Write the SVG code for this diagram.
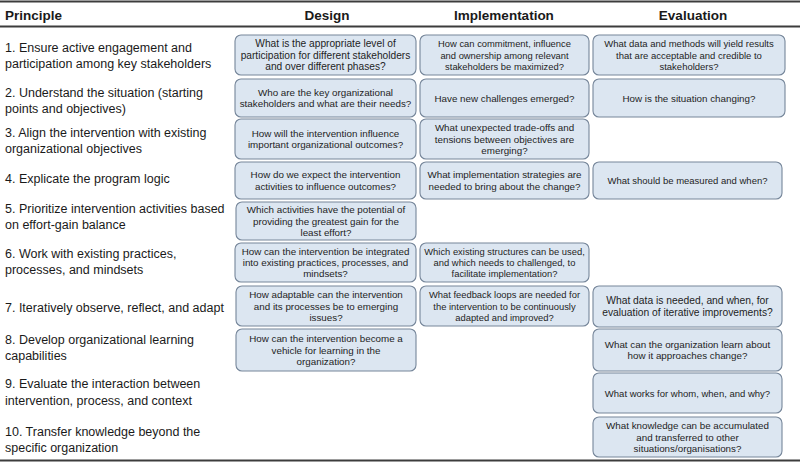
<svg xmlns="http://www.w3.org/2000/svg" width="800" height="464" viewBox="0 0 800 464">
<style>
  .rule{stroke:#3c3c3c;stroke-width:2;fill:none}
  .hd{font-family:"Liberation Sans",Arial,sans-serif;font-weight:bold;font-size:13.5px;fill:#1a1a1a}
  .pr{font-family:"Liberation Sans",Arial,sans-serif;font-size:12.5px;fill:#1a1a1a}
  .box{fill:#dce6f1;stroke:#76869a;stroke-width:1.1}
  .bt{font-family:"Liberation Sans",Arial,sans-serif;font-size:9.8px;fill:#1e1e1e;text-anchor:middle}
</style>
<rect x="0" y="0" width="800" height="464" fill="#ffffff"/>
<g id="rules">
  <line class="rule" x1="0" y1="1.5" x2="800" y2="1.5"/>
  <line class="rule" x1="0" y1="26.5" x2="800" y2="26.5"/>
  <line class="rule" x1="0" y1="460.5" x2="800" y2="460.5"/>
</g>
<g id="headers">
  <text class="hd" x="5" y="20">Principle</text>
  <text class="hd" x="327" y="20" text-anchor="middle">Design</text>
  <text class="hd" x="504" y="20" text-anchor="middle">Implementation</text>
  <text class="hd" x="693" y="20" text-anchor="middle">Evaluation</text>
</g>
<g id="principles">
  <text class="pr" x="5" y="52">1. Ensure active engagement and</text>
  <text class="pr" x="5" y="68">participation among key stakeholders</text>
  <text class="pr" x="5" y="97">2. Understand the situation (starting</text>
  <text class="pr" x="5" y="113">points and objectives)</text>
  <text class="pr" x="5" y="137">3. Align the intervention with existing</text>
  <text class="pr" x="5" y="153">organizational objectives</text>
  <text class="pr" x="5" y="183">4. Explicate the program logic</text>
  <text class="pr" x="5" y="213">5. Prioritize intervention activities based</text>
  <text class="pr" x="5" y="229">on effort-gain balance</text>
  <text class="pr" x="5" y="258">6. Work with existing practices,</text>
  <text class="pr" x="5" y="274">processes, and mindsets</text>
  <text class="pr" x="5" y="312">7. Iteratively observe, reflect, and adapt</text>
  <text class="pr" x="5" y="344">8. Develop organizational learning</text>
  <text class="pr" x="5" y="360">capabilities</text>
  <text class="pr" x="5" y="388">9. Evaluate the interaction between</text>
  <text class="pr" x="5" y="405">intervention, process, and context</text>
  <text class="pr" x="5" y="436">10. Transfer knowledge beyond the</text>
  <text class="pr" x="5" y="452">specific organization</text>
</g>
<g id="design">
  <g id="d1"><rect class="box" x="235" y="35" width="181" height="40" rx="6"/>
    <text class="bt" style="font-size:10.2px" x="325.5" y="47.1">What is the appropriate level of</text>
    <text class="bt" style="font-size:10.2px" x="325.5" y="58.5">participation for different stakeholders</text>
    <text class="bt" style="font-size:10.2px" x="325.5" y="69.9">and over different phases?</text></g>
  <g id="d2"><rect class="box" x="235" y="79" width="181" height="38" rx="6"/>
    <text class="bt" x="325.5" y="95.8">Who are the key organizational</text>
    <text class="bt" x="325.5" y="107.2">stakeholders and what are their needs?</text></g>
  <g id="d3"><rect class="box" x="235" y="119" width="181" height="40" rx="6"/>
    <text class="bt" x="325.5" y="136.8">How will the intervention influence</text>
    <text class="bt" x="325.5" y="148.2">important organizational outcomes?</text></g>
  <g id="d4"><rect class="box" x="235" y="162" width="181" height="37" rx="6"/>
    <text class="bt" x="325.5" y="178.3">How do we expect the intervention</text>
    <text class="bt" x="325.5" y="189.7">activities to influence outcomes?</text></g>
  <g id="d5"><rect class="box" x="236" y="202" width="180" height="38" rx="6"/>
    <text class="bt" x="326" y="213.1">Which activities have the potential of</text>
    <text class="bt" x="326" y="224.5">providing the greatest gain for the</text>
    <text class="bt" x="326" y="235.9">least effort?</text></g>
  <g id="d6"><rect class="box" x="235" y="243" width="181" height="39" rx="6"/>
    <text class="bt" x="325.5" y="254.6">How can the intervention be integrated</text>
    <text class="bt" x="325.5" y="266">into existing practices, processes, and</text>
    <text class="bt" x="325.5" y="277.4">mindsets?</text></g>
  <g id="d7"><rect class="box" x="236" y="286" width="180" height="40" rx="6"/>
    <text class="bt" x="326" y="298.1">How adaptable can the intervention</text>
    <text class="bt" x="326" y="309.5">and its processes be to emerging</text>
    <text class="bt" x="326" y="320.9">issues?</text></g>
  <g id="d8"><rect class="box" x="236" y="329" width="180" height="42" rx="6"/>
    <text class="bt" x="326" y="342.1">How can the intervention become a</text>
    <text class="bt" x="326" y="353.5">vehicle for learning in the</text>
    <text class="bt" x="326" y="364.9">organization?</text></g>
</g>
<g id="implementation">
  <g id="i1"><rect class="box" x="420" y="35" width="169" height="40" rx="6"/>
    <text class="bt" style="font-size:9.4px" x="504.5" y="47.1">How can commitment, influence</text>
    <text class="bt" style="font-size:9.4px" x="504.5" y="58.5">and ownership among relevant</text>
    <text class="bt" style="font-size:9.4px" x="504.5" y="69.9">stakeholders be maximized?</text></g>
  <g id="i2"><rect class="box" x="420" y="79" width="169" height="38" rx="6"/>
    <text class="bt" x="504.5" y="101.5">Have new challenges emerged?</text></g>
  <g id="i3"><rect class="box" x="420" y="119" width="169" height="40" rx="6"/>
    <text class="bt" x="504.5" y="131.1">What unexpected trade-offs and</text>
    <text class="bt" x="504.5" y="142.5">tensions between objectives are</text>
    <text class="bt" x="504.5" y="153.9">emerging?</text></g>
  <g id="i4"><rect class="box" x="420" y="162" width="169" height="37" rx="6"/>
    <text class="bt" x="504.5" y="178.3">What implementation strategies are</text>
    <text class="bt" x="504.5" y="189.7">needed to bring about the change?</text></g>
  <g id="i6"><rect class="box" x="420" y="243" width="169" height="39" rx="6"/>
    <text class="bt" style="font-size:9.4px" x="504.5" y="254.6">Which existing structures can be used,</text>
    <text class="bt" style="font-size:9.4px" x="504.5" y="266">and which needs to challenged, to</text>
    <text class="bt" style="font-size:9.4px" x="504.5" y="277.4">facilitate implementation?</text></g>
  <g id="i7"><rect class="box" x="420" y="286" width="169" height="40" rx="6"/>
    <text class="bt" style="font-size:9.4px" x="504.5" y="298.1">What feedback loops are needed for</text>
    <text class="bt" style="font-size:9.4px" x="504.5" y="309.5">the intervention to be continuously</text>
    <text class="bt" style="font-size:9.4px" x="504.5" y="320.9">adapted and improved?</text></g>
</g>
<g id="evaluation">
  <g id="e1"><rect class="box" x="593" y="35" width="192" height="40" rx="6"/>
    <text class="bt" style="font-size:9.5px" x="689" y="47.1">What data and methods will yield results</text>
    <text class="bt" style="font-size:9.5px" x="689" y="58.5">that are acceptable and credible to</text>
    <text class="bt" style="font-size:9.5px" x="689" y="69.9">stakeholders?</text></g>
  <g id="e2"><rect class="box" x="593" y="79" width="192" height="38" rx="6"/>
    <text class="bt" x="689" y="101.5">How is the situation changing?</text></g>
  <g id="e4"><rect class="box" x="593" y="162" width="189" height="37" rx="6"/>
    <text class="bt" style="font-size:9.5px" x="687.5" y="184">What should be measured and when?</text></g>
  <g id="e7"><rect class="box" x="593" y="286" width="189" height="41" rx="6"/>
    <text class="bt" style="font-size:10.3px" x="687.5" y="303.5">What data is needed, and when, for</text>
    <text class="bt" style="font-size:10.3px" x="687.5" y="315.5">evaluation of iterative improvements?</text></g>
  <g id="e8"><rect class="box" x="593" y="329" width="189" height="42" rx="6"/>
    <text class="bt" x="687.5" y="347.8">What can the organization learn about</text>
    <text class="bt" x="687.5" y="359.2">how it approaches change?</text></g>
  <g id="e9"><rect class="box" x="593" y="373" width="189" height="40" rx="6"/>
    <text class="bt" style="font-size:9.5px" x="687.5" y="396.5">What works for whom, when, and why?</text></g>
  <g id="e10"><rect class="box" x="593" y="417" width="189" height="40" rx="6"/>
    <text class="bt" x="687.5" y="429.1">What knowledge can be accumulated</text>
    <text class="bt" x="687.5" y="440.5">and transferred to other</text>
    <text class="bt" x="687.5" y="451.9">situations/organisations?</text></g>
</g>
<g id="connectors"></g>
</svg>
